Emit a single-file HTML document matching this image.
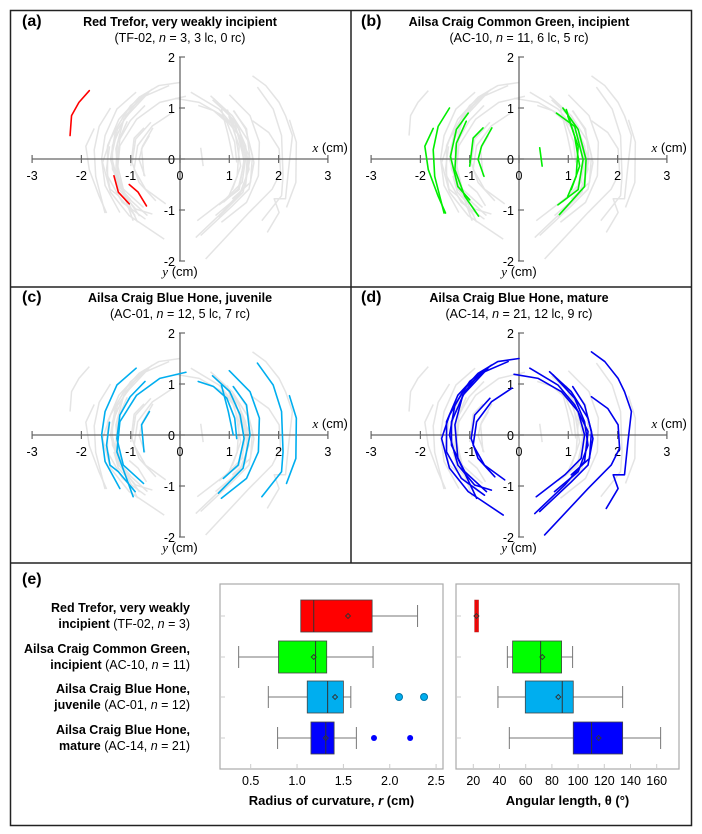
<!DOCTYPE html>
<html><head><meta charset="utf-8">
<style>
body{margin:0;background:#fff;}
svg{display:block;font-family:"Liberation Sans",sans-serif;}
</style></head>
<body>
<svg id="fig" width="702" height="834" viewBox="0 0 702 834" xmlns="http://www.w3.org/2000/svg">
<rect x="10.5" y="10.5" width="681" height="815" fill="#fff" stroke="#222" stroke-width="1.5"/>
<line x1="351" y1="10" x2="351" y2="563" stroke="#222" stroke-width="1.5"/>
<line x1="10" y1="287" x2="692" y2="287" stroke="#222" stroke-width="1.5"/>
<line x1="10" y1="563" x2="692" y2="563" stroke="#222" stroke-width="1.5"/>
<g id="panels"></g>
<g id="boxes"></g>
</svg>
<script>
// ---------- arc data (cm, y positive up) ----------
const redArcs = [
 [[-2.23,0.46],[-2.2,0.85],[-2.05,1.11],[-1.84,1.34]],
 [[-1.34,-0.33],[-1.25,-0.65],[-1.03,-0.88]],
 [[-1.03,-0.5],[-0.85,-0.65],[-0.68,-0.92]]
];
const greenArcs = [
 [[-1.41,1.0],[-1.64,0.64],[-1.74,0.18],[-1.71,-0.34],[-1.52,-1.06]],
 [[-1.74,0.6],[-1.91,0.25],[-1.84,-0.21],[-1.64,-0.73],[-1.49,-1.06]],
 [[-1.03,0.9],[-1.27,0.58],[-1.39,0.05],[-1.24,-0.54],[-1.0,-0.8]],
 [[-1.07,0.74],[-1.27,0.31],[-1.3,-0.21],[-1.1,-0.73],[-0.82,-1.12]],
 [[-0.73,0.61],[-0.93,0.41],[-1.0,-0.14]],
 [[-0.55,0.61],[-0.76,0.25],[-0.83,-0.01],[-0.71,-0.34]],
 [[0.42,0.22],[0.47,-0.14]],
 [[0.76,0.9],[1.13,0.64],[1.3,-0.01],[1.2,-0.6],[0.79,-0.9]],
 [[0.89,1.0],[1.2,0.58],[1.36,-0.01],[1.33,-0.54],[0.82,-1.09]],
 [[0.96,0.97],[1.13,0.44],[1.23,-0.14],[1.06,-0.6]],
 [[0.99,0.84],[1.2,0.25],[1.16,-0.34],[0.99,-0.73]]
];
const lightBlueArcs = [
 [[-0.89,1.31],[-1.28,0.98],[-1.52,0.46],[-1.59,0],[-1.52,-0.52],[-1.22,-1.05]],
 [[-0.71,1.05],[-1.01,0.75],[-1.22,0.39],[-1.28,-0.07],[-1.15,-0.59],[-0.74,-0.95]],
 [[0.12,1.23],[-0.41,1.11],[-0.88,0.78],[-1.22,0.26],[-1.28,-0.33],[-0.95,-1.21]],
 [[-1.43,0.25],[-1.49,-0.2],[-1.42,-0.59],[-1.25,-0.72],[-0.91,-1.11]],
 [[-0.62,0.46],[-0.78,0.2],[-0.73,-0.33]],
 [[0.37,1.05],[0.68,0.95],[0.95,0.72],[1.11,0.33],[1.15,-0.07]],
 [[0.66,1.16],[1.01,0.85],[1.22,0.39],[1.3,-0.07],[1.18,-0.59],[0.88,-0.85]],
 [[0.84,0.98],[0.98,0.46],[1.08,0]],
 [[1.08,0.95],[1.35,0.59],[1.42,0],[1.28,-0.65],[0.78,-1.14]],
 [[1.0,1.26],[1.42,0.85],[1.61,0.33],[1.59,-0.33],[1.35,-0.85],[0.84,-1.24]],
 [[1.57,1.41],[1.89,0.98],[2.06,0.46],[2.09,-0.33],[2.06,-0.72],[1.66,-1.21]],
 [[2.22,0.77],[2.36,0.33],[2.35,-0.46],[2.16,-0.95]]
];
const blueArcs = [
 [[0,1.5],[-0.43,1.44],[-0.83,1.21],[-1.24,0.78],[-1.47,0.26],[-1.47,-0.33],[-1.17,-0.85],[-0.7,-1.18]],
 [[-0.22,1.44],[-0.7,1.24],[-1.1,0.92],[-1.41,0.39],[-1.57,-0.07],[-1.41,-0.65],[-1.03,-1.11],[-0.32,-1.57]],
 [[-0.56,1.37],[-1.0,1.05],[-1.3,0.59],[-1.41,0],[-1.24,-0.59],[-0.9,-0.98],[-0.56,-1.08]],
 [[-0.63,1.31],[-1.14,0.78],[-1.3,0.2],[-1.24,-0.46],[-0.86,-1.24]],
 [[-0.76,1.24],[-1.1,0.85],[-1.37,0.26],[-1.37,-0.2],[-1.1,-0.72],[-0.66,-1.11]],
 [[-0.59,0.72],[-0.9,0.39],[-0.97,-0.07],[-0.83,-0.46],[-0.49,-0.82]],
 [[-0.14,0.92],[-0.56,0.65],[-0.86,0.26],[-0.93,-0.2],[-0.7,-0.59],[-0.29,-0.88]],
 [[-0.1,1.19],[0.39,1.11],[0.86,0.85],[1.2,0.46],[1.33,0],[1.26,-0.46],[0.93,-0.78],[0.35,-1.21]],
 [[0.22,1.31],[0.79,0.98],[1.13,0.59],[1.4,0.07],[1.33,-0.52],[0.93,-0.98],[0.32,-1.54]],
 [[0.62,1.24],[1.06,0.85],[1.4,0.33],[1.5,-0.07],[1.4,-0.59],[1.06,-0.92],[0.42,-1.5]],
 [[0.69,1.18],[1.13,0.72],[1.33,0.26],[1.4,-0.2],[1.2,-0.72],[0.72,-1.11]],
 [[1.09,0.95],[1.33,0.59],[1.47,0.07],[1.43,-0.46],[1.06,-0.78]],
 [[1.47,0.75],[1.8,0.52],[2.01,0.2],[2.04,-0.26],[1.87,-0.59],[1.4,-1.05],[0.52,-1.96]],
 [[1.47,1.63],[1.74,1.44],[2.01,1.11],[2.14,0.85],[2.28,0.46],[2.21,-0.13],[2.14,-0.78],[1.91,-0.78],[2.01,-1.05],[1.77,-1.44]]
];
const xTicks = [-3,-2,-1,0,1,2,3];
const yTicks = [2,1,0,-1,-2];

// ---------- box plot data ----------
const groups = ["red","green","lightblue","blue"];
const rStats = [ // min, q1, median, mean, q3, max
 [1.04,1.04,1.18,1.55,1.81,2.30],
 [0.37,0.80,1.20,1.18,1.32,1.82],
 [0.69,1.11,1.33,1.41,1.50,1.58],
 [0.79,1.15,1.31,1.31,1.40,1.64]
];
const rOutliers = [[],[],[2.10,2.37],[1.83,2.22]];
const tStats = [
 [21.0,21.0,22.4,22.4,24.0,24.0],
 [46,50,71.4,72.7,87.4,95.8],
 [38.8,59.7,87.9,84.9,96.3,134],
 [47.5,96.3,110.3,115.7,134,163]
];
const rTickLabels = ["0.5","1.0","1.5","2.0","2.5"];
const tTickLabels = ["20","40","60","80","100","120","140","160"];

const NS="http://www.w3.org/2000/svg";
function mk(tag,attrs,parent,txt){const e=document.createElementNS(NS,tag);for(const k in attrs)e.setAttribute(k,attrs[k]);if(txt!==undefined)e.textContent=txt;parent.appendChild(e);return e;}

const colors=["#ff0000","#00ee00","#00aeef","#0000ee"];
const fills=["#ff0000","#00ff00","#00aeef","#0000ff"];
const allArcs=[redArcs,greenArcs,lightBlueArcs,blueArcs];
const panelInfo=[
 {ox:180,oy:159,lab:"(a)",t1:"Red Trefor, very weakly incipient",sub:["(TF-02, ","n"," = 3, 3 lc, 0 rc)"]},
 {ox:519,oy:159,lab:"(b)",t1:"Ailsa Craig Common Green, incipient",sub:["(AC-10, ","n"," = 11, 6 lc, 5 rc)"]},
 {ox:180,oy:435,lab:"(c)",t1:"Ailsa Craig Blue Hone, juvenile",sub:["(AC-01, ","n"," = 12, 5 lc, 7 rc)"]},
 {ox:519,oy:435,lab:"(d)",t1:"Ailsa Craig Blue Hone, mature",sub:["(AC-14, ","n"," = 21, 12 lc, 9 rc)"]}
];
const SX=49.3, SY=51;
const P=document.getElementById('panels');
panelInfo.forEach((p,i)=>{
 const g=mk('g',{},P);
 
 
 const px=v=>p.ox+v*SX, py=v=>p.oy-v*SY;
 const lb=mk('text',{x:p.ox-158,y:p.oy-133,'font-size':16,'font-weight':'bold',fill:'#000'},g,p.lab);
 
 
 const t=mk('text',{x:p.ox,y:p.oy-133,'font-size':12.5,'font-weight':'bold','text-anchor':'middle'},g,p.t1);
 
 
 const s=mk('text',{x:p.ox,y:p.oy-117,'font-size':12.5,'text-anchor':'middle'},g);
 
 
 mk('tspan',{},s,p.sub[0]);mk('tspan',{'font-style':'italic'},s,p.sub[1]);mk('tspan',{},s,p.sub[2]);
 allArcs.forEach((set,si)=>{ if(si===i)return; set.forEach(a=>{
   const pl=mk('polyline',{points:a.map(q=>px(q[0])+','+py(q[1])).join(' '),fill:'none',stroke:'#e4e4e4','stroke-width':1.5,'stroke-linejoin':'round'},g);
   
   
 });});
 const ax=mk('line',{x1:px(-3),y1:p.oy,x2:px(3),y2:p.oy,stroke:'#666','stroke-width':1.3},g);
 
 
 const ay=mk('line',{x1:p.ox,y1:py(2),x2:p.ox,y2:py(-2),stroke:'#666','stroke-width':1.3},g);
 
 
 xTicks.forEach(v=>{
   mk('line',{x1:px(v),y1:p.oy-4,x2:px(v),y2:p.oy+4,stroke:'#666','stroke-width':1.2},g);
   const tl=mk('text',{x:px(v),y:p.oy+21,'font-size':12.5,'text-anchor':'middle'},g,String(v));
   
   
 });
 yTicks.forEach(v=>{
   mk('line',{x1:p.ox-1,y1:py(v),x2:p.ox+5,y2:py(v),stroke:'#666','stroke-width':1.2},g);
   if(v===0)return;
   const tl=mk('text',{x:p.ox-5,y:py(v)+5,'font-size':12.5,'text-anchor':'end'},g,String(v));
   
   
 });
 const z=mk('text',{x:p.ox-5,y:p.oy+5,'font-size':12.5,'text-anchor':'end'},g,'0');
 
 
 const xt=mk('text',{x:px(3)+20,y:p.oy-7,'font-size':13,'text-anchor':'end'},g);
 
 
 mk('tspan',{'font-family':'Liberation Serif,serif','font-style':'italic'},xt,'x');mk('tspan',{},xt,' (cm)');
 const yt=mk('text',{x:p.ox,y:py(-2)+15,'font-size':13,'text-anchor':'middle'},g);
 
 
 mk('tspan',{'font-family':'Liberation Serif,serif','font-style':'italic'},yt,'y');mk('tspan',{},yt,' (cm)');
 allArcs[i].forEach(a=>{
   const pl=mk('polyline',{points:a.map(q=>px(q[0])+','+py(q[1])).join(' '),fill:'none',stroke:colors[i],'stroke-width':1.6,'stroke-linejoin':'round','stroke-linecap':'round'},g);
   
   
 });
});

// ---------- panel (e) ----------
const B=document.getElementById('boxes');
const el=mk('text',{x:22,y:584,'font-size':16,'font-weight':'bold'},B,'(e)');


const rowY=[616,657,697,738];
const cat=[["Red Trefor, very weakly","incipient"," (TF-02, ","n"," = 3)"],
 ["Ailsa Craig Common Green,","incipient"," (AC-10, ","n"," = 11)"],
 ["Ailsa Craig Blue Hone,","juvenile"," (AC-01, ","n"," = 12)"],
 ["Ailsa Craig Blue Hone,","mature"," (AC-14, ","n"," = 21)"]];
cat.forEach((c,i)=>{
 const t1=mk('text',{x:190,y:rowY[i]-4,'font-size':12.5,'font-weight':'bold','text-anchor':'end'},B,c[0]);
 
 
 const t2=mk('text',{x:190,y:rowY[i]+12,'font-size':12.5,'text-anchor':'end'},B);
 
 
 mk('tspan',{'font-weight':'bold'},t2,c[1]);mk('tspan',{},t2,c[2]);mk('tspan',{'font-style':'italic'},t2,c[3]);mk('tspan',{},t2,c[4]);
});
function boxPlot(x0,x1,scale,stats,outl,ticks,tickVal,title,name){
 const g=mk('g',{},B);
 
 
 const fr=mk('rect',{x:x0,y:584,width:x1-x0,height:185,fill:'#fff',stroke:'#aaa','stroke-width':1.2},g);
 
 
 rowY.forEach(y=>mk('line',{x1:x0,y1:y,x2:x0+5,y2:y,stroke:'#ccc'},g));
 ticks.forEach((l,k)=>{
   const x=scale(tickVal(k));
   mk('line',{x1:x,y1:769,x2:x,y2:764,stroke:'#ccc'},g);
   const t=mk('text',{x:x,y:785,'font-size':12.5,'text-anchor':'middle'},g,l);
   
   
 });
 stats.forEach((s,i)=>{
   const y=rowY[i],h=16;
   const hasW=s[0]<s[1]||s[5]>s[4];
   if(s[0]<s[1]){
     mk('line',{x1:scale(s[0]),y1:y,x2:scale(s[1]),y2:y,stroke:'#777'},g);
     mk('line',{x1:scale(s[0]),y1:y-11,x2:scale(s[0]),y2:y+11,stroke:'#777'},g);
   }
   if(s[5]>s[4]){
     mk('line',{x1:scale(s[4]),y1:y,x2:scale(s[5]),y2:y,stroke:'#777'},g);
     mk('line',{x1:scale(s[5]),y1:y-11,x2:scale(s[5]),y2:y+11,stroke:'#777'},g);
   }
   const r=mk('rect',{x:scale(s[1]),y:y-h,width:Math.max(scale(s[4])-scale(s[1]),3),height:2*h,fill:fills[i],stroke:hasW?'#444':'#aa2222','stroke-width':hasW?0.8:0.5},g);
   
   
   mk('line',{x1:scale(s[2]),y1:y-h,x2:scale(s[2]),y2:y+h,stroke:hasW?'#333':'#aa2222','stroke-width':hasW?1:0.6},g);
   const m=scale(s[3]);
   const d=mk('path',{d:`M${m-2.5},${y} L${m},${y-2.5} L${m+2.5},${y} L${m},${y+2.5}Z`,fill:'none',stroke:'#333','stroke-width':0.9},g);
   
   
   (outl[i]||[]).forEach(v=>{
     const c=mk('circle',{cx:scale(v),cy:y,r:i===2?3.5:3,fill:fills[i],stroke:i===2?'#0077aa':'none'},g);
     
     
   });
 });
 const at=mk('text',{x:(x0+x1)/2,y:805,'font-size':13,'font-weight':'bold','text-anchor':'middle'},g);
 
 
 title.forEach(p=>mk('tspan',p[1]?{'font-style':'italic'}:{},at,p[0]));
}
const rScale=v=>250.7+92.7*(v-0.5);
const tScale=v=>473.3+1.31*(v-20);
boxPlot(220,443,rScale,rStats,rOutliers,rTickLabels,k=>0.5+0.5*k,[["Radius of curvature, "],["r",1],[" (cm)"]],'radius-boxplot');
boxPlot(456,679,tScale,tStats,[[],[],[],[]],tTickLabels,k=>20+20*k,[["Angular length, θ (°)"]],'angle-boxplot');
</script>
</body></html>
